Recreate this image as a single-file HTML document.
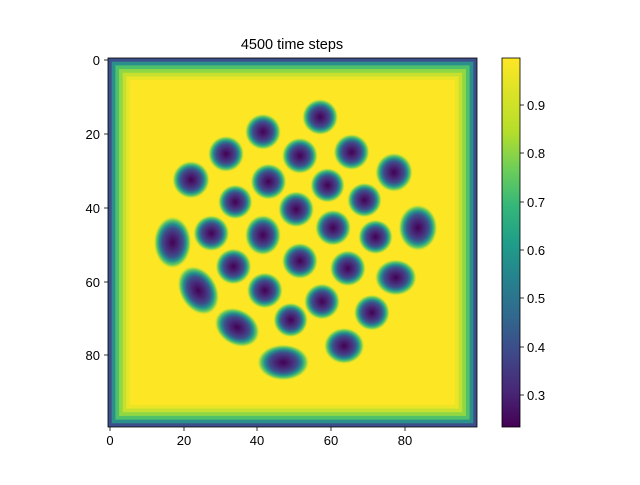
<!DOCTYPE html>
<html><head><style>
body{margin:0;background:#fff;}
svg text{font-family:"Liberation Sans",sans-serif;font-size:13px;fill:#000;}
</style></head><body>
<svg width="640" height="480" xmlns="http://www.w3.org/2000/svg">
<defs>
<radialGradient id="b">
<stop offset="0" stop-color="#440154"/>
<stop offset="0.35" stop-color="#472d7b"/>
<stop offset="0.55" stop-color="#3b528b"/>
<stop offset="0.7" stop-color="#21918c"/>
<stop offset="0.85" stop-color="#6ece58"/>
<stop offset="1" stop-color="#fde725" stop-opacity="0"/>
</radialGradient>
<linearGradient id="cb" x1="0" y1="1" x2="0" y2="0">
<stop offset="0" stop-color="#440154"/>
<stop offset="0.1" stop-color="#482878"/>
<stop offset="0.2" stop-color="#3e4989"/>
<stop offset="0.3" stop-color="#31688e"/>
<stop offset="0.4" stop-color="#26828e"/>
<stop offset="0.5" stop-color="#1f9e89"/>
<stop offset="0.6" stop-color="#35b779"/>
<stop offset="0.7" stop-color="#6ece58"/>
<stop offset="0.8" stop-color="#b5de2b"/>
<stop offset="1" stop-color="#fde725"/>
</linearGradient>
</defs>
<text x="292" y="49" text-anchor="middle" style="font-size:14.5px">4500 time steps</text>
<svg x="108" y="58" width="369" height="369" viewBox="0 0 100 100" preserveAspectRatio="none">
<rect x="0" y="0" width="100" height="100" fill="#3d4f8a"/>
<rect x="1" y="1" width="98" height="98" fill="#2b8f8c"/>
<rect x="2" y="2" width="96" height="96" fill="#4fc16b"/>
<rect x="3" y="3" width="94" height="94" fill="#8fd744"/>
<rect x="4" y="4" width="92" height="92" fill="#c6e030"/>
<rect x="5" y="5" width="90" height="90" fill="#ebe528"/>
<rect x="6" y="6" width="88" height="88" fill="#fde725"/>
<g fill="url(#b)">
<circle cx="57.5" cy="16" r="5"/>
<circle cx="42" cy="20" r="5"/>
<circle cx="32" cy="26" r="5"/>
<circle cx="52" cy="26.5" r="5"/>
<circle cx="66" cy="25.5" r="5"/>
<ellipse cx="77.5" cy="31" rx="5.2" ry="5.4"/>
<circle cx="22.5" cy="33" r="5.2"/>
<circle cx="43.5" cy="33.5" r="5"/>
<circle cx="59.5" cy="34.5" r="4.8"/>
<circle cx="69.5" cy="38.5" r="4.8"/>
<circle cx="34.5" cy="39" r="4.8"/>
<circle cx="51" cy="41" r="5"/>
<ellipse cx="84" cy="46" rx="5.4" ry="6.4"/>
<circle cx="61" cy="46" r="5"/>
<circle cx="28" cy="47.5" r="5"/>
<ellipse cx="42" cy="48" rx="5" ry="5.6"/>
<circle cx="72.5" cy="48.5" r="4.8"/>
<ellipse cx="17.5" cy="50" rx="5.2" ry="7.2"/>
<circle cx="52" cy="55" r="5"/>
<circle cx="34" cy="56.5" r="5"/>
<circle cx="65" cy="57" r="5"/>
<ellipse cx="78" cy="59.5" rx="5.8" ry="5"/>
<ellipse cx="24.5" cy="63" rx="5.2" ry="7.2" transform="rotate(-30 24.5 63)"/>
<circle cx="42.5" cy="63" r="5"/>
<circle cx="58" cy="66" r="5"/>
<circle cx="71.5" cy="69" r="5"/>
<ellipse cx="35" cy="73" rx="6.6" ry="5" transform="rotate(30 35 73)"/>
<circle cx="49.5" cy="71" r="4.8"/>
<ellipse cx="64" cy="78" rx="5.6" ry="5"/>
<ellipse cx="47.5" cy="82.5" rx="7.2" ry="5"/>
</g>
</svg>
<rect x="108" y="58" width="369" height="369" fill="none" stroke="#000" stroke-width="0.8"/>
<g stroke="#000" stroke-width="0.8">
<line x1="110" y1="427" x2="110" y2="431"/><line x1="184" y1="427" x2="184" y2="431"/><line x1="257" y1="427" x2="257" y2="431"/><line x1="331" y1="427" x2="331" y2="431"/><line x1="405" y1="427" x2="405" y2="431"/>
<line x1="104" y1="60" x2="108" y2="60"/><line x1="104" y1="134" x2="108" y2="134"/><line x1="104" y1="208" x2="108" y2="208"/><line x1="104" y1="282" x2="108" y2="282"/><line x1="104" y1="355" x2="108" y2="355"/>
</g>
<g text-anchor="middle">
<text x="110" y="445">0</text><text x="184" y="445">20</text><text x="257" y="445">40</text><text x="331" y="445">60</text><text x="405" y="445">80</text>
</g>
<g text-anchor="end">
<text x="100" y="65">0</text><text x="100" y="139">20</text><text x="100" y="213">40</text><text x="100" y="287">60</text><text x="100" y="360">80</text>
</g>
<rect x="502" y="58" width="18" height="369" fill="url(#cb)" stroke="#000" stroke-width="0.8"/>
<g stroke="#000" stroke-width="0.8">
<line x1="520" y1="395" x2="524" y2="395"/><line x1="520" y1="347" x2="524" y2="347"/><line x1="520" y1="298" x2="524" y2="298"/><line x1="520" y1="250" x2="524" y2="250"/><line x1="520" y1="202" x2="524" y2="202"/><line x1="520" y1="153" x2="524" y2="153"/><line x1="520" y1="105" x2="524" y2="105"/>
</g>
<text x="527" y="400">0.3</text><text x="527" y="352">0.4</text><text x="527" y="303">0.5</text><text x="527" y="255">0.6</text><text x="527" y="207">0.7</text><text x="527" y="158">0.8</text><text x="527" y="110">0.9</text>
</svg>
</body></html>
